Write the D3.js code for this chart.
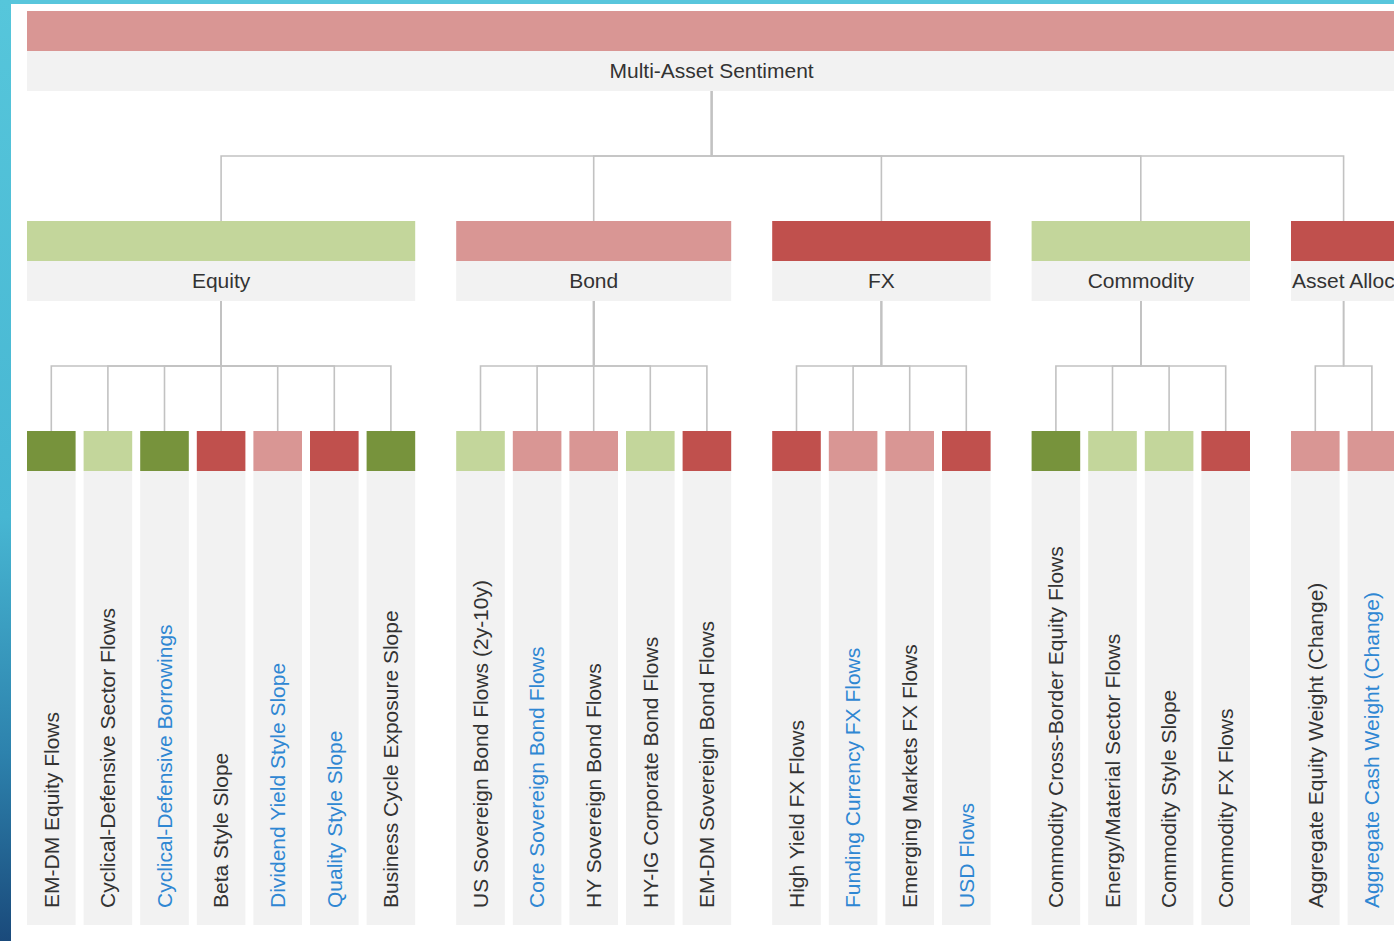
<!DOCTYPE html>
<html>
<head>
<meta charset="utf-8">
<script src="https://cdn.jsdelivr.net/npm/d3@7/dist/d3.min.js"></script>
<style>
  body { margin: 0; background: #fff; overflow: hidden; }
  svg { display: block; font-family: "Liberation Sans", Arial, sans-serif; }
</style>
</head>
<body>
<svg width="1394" height="941"></svg>
<script>
let width = 1394,
    height = 941;

// sentiment: 2 strong positive, 1 positive, -1 negative, -2 strong negative
let rootName = "Multi-Asset Sentiment";
let rootSentiment = -1;

let groups = ["Equity", "Bond", "FX", "Commodity", "Asset Allocation"];
let groupSentiment = [1, -1, -2, 1, -2];

let equityNames = ["EM-DM Equity Flows", "Cyclical-Defensive Sector Flows", "Cyclical-Defensive Borrowings",
  "Beta Style Slope", "Dividend Yield Style Slope", "Quality Style Slope", "Business Cycle Exposure Slope"];
let equitySentiment = [2, 1, 2, -2, -1, -2, 2];
let equityLinked = [false, false, true, false, true, true, false];

let bondNames = ["US Sovereign Bond Flows  (2y-10y)", "Core Sovereign Bond Flows", "HY Sovereign Bond Flows",
  "HY-IG Corporate Bond Flows", "EM-DM Sovereign Bond Flows"];
let bondSentiment = [1, -1, -1, 1, -2];
let bondLinked = [false, true, false, false, false];

let fxNames = ["High Yield FX Flows", "Funding Currency FX Flows", "Emerging Markets FX Flows", "USD Flows"];
let fxSentiment = [-2, -1, -1, -2];
let fxLinked = [false, true, false, true];

let commodityNames = ["Commodity Cross-Border Equity Flows", "Energy/Material Sector Flows",
  "Commodity Style Slope", "Commodity FX Flows"];
let commoditySentiment = [2, 1, 1, -2];
let commodityLinked = [false, false, false, false];

let allocationNames = ["Aggregate Equity Weight (Change)", "Aggregate Cash Weight (Change)"];
let allocationSentiment = [-1, -1];
let allocationLinked = [false, true];

let leafNames = [equityNames, bondNames, fxNames, commodityNames, allocationNames];
let leafSentiment = [equitySentiment, bondSentiment, fxSentiment, commoditySentiment, allocationSentiment];
let leafLinked = [equityLinked, bondLinked, fxLinked, commodityLinked, allocationLinked];

let color = d3.scaleOrdinal()
  .domain([2, 1, -1, -2])
  .range(["#77933c", "#c3d69b", "#d99694", "#c0504d"]);

// build the tree
let leafIndex = 0;
let treeData = {
  name: rootName, sentiment: rootSentiment,
  children: groups.map((g, gi) => ({
    name: g, sentiment: groupSentiment[gi],
    children: leafNames[gi].map((n, i) => ({
      name: n, sentiment: leafSentiment[gi][i], linked: leafLinked[gi][i],
      slot: (leafIndex++) + gi * (33 / 56.6)
    }))
  }))
};
let root = d3.hierarchy(treeData);

let leafW = 48.6;
let x = d3.scaleLinear().domain([0, 1]).range([27, 27 + 56.6]);
let y = d3.scaleLinear().domain([0, 2]).range([11, 431]);

root.eachAfter(d => {
  if (!d.children) {
    d.x0 = x(d.data.slot);
    d.x1 = d.x0 + leafW;
  } else {
    d.x0 = d3.min(d.children, c => c.x0);
    d.x1 = d3.max(d.children, c => c.x1);
  }
  d.cx = (d.x0 + d.x1) / 2;
  d.top = y(d.depth);
});

let svg = d3.select("svg");

// frame
let defs = svg.append("defs");
let grad = defs.append("linearGradient")
  .attr("id", "side").attr("x1", 0).attr("y1", 0).attr("x2", 0).attr("y2", 1);
grad.append("stop").attr("offset", "0%").attr("stop-color", "#56c6db");
grad.append("stop").attr("offset", "55%").attr("stop-color", "#47b6d2");
grad.append("stop").attr("offset", "80%").attr("stop-color", "#2d82ad");
grad.append("stop").attr("offset", "100%").attr("stop-color", "#1a4a7b");

svg.append("rect").attr("width", width).attr("height", height).attr("fill", "#fff");
svg.append("rect").attr("width", width).attr("height", 4).attr("fill", "#58c6dc");
svg.append("rect").attr("width", 11).attr("height", height).attr("fill", "url(#side)");

// connectors
let link = svg.append("g")
    .attr("class", "links")
    .attr("fill", "none")
    .attr("stroke", "#c2c2c2")
    .attr("stroke-width", 1.6)
  .selectAll("path")
  .data(root.links())
  .enter().append("path")
    .attr("d", d => {
      let midY = d.target.top - 65;
      return "M" + d.source.cx + "," + (d.source.top + 80) +
        "V" + midY + "H" + d.target.cx + "V" + d.target.top;
    });

// nodes
let node = svg.append("g")
    .attr("class", "nodes")
  .selectAll("g")
  .data(root.descendants())
  .enter().append("g");

node.append("rect")
  .attr("x", d => d.x0)
  .attr("y", d => d.top + 40)
  .attr("width", d => d.x1 - d.x0)
  .attr("height", d => d.children ? 40 : 454)
  .attr("fill", "#f2f2f2");

node.append("rect")
  .attr("x", d => d.x0)
  .attr("y", d => d.top)
  .attr("width", d => d.x1 - d.x0)
  .attr("height", 40)
  .attr("fill", d => color(d.data.sentiment));

// internal labels (overflowing labels start at the box edge, like the original)
node.filter(d => d.children)
  .append("text")
    .attr("x", d => d.cx)
    .attr("y", d => d.top + 60)
    .attr("dy", "0.35em")
    .attr("text-anchor", "middle")
    .attr("font-size", 21)
    .attr("fill", "#333")
    .text(d => d.data.name)
    .each(function(d) {
      if (this.getComputedTextLength() > d.x1 - d.x0 - 4) {
        d3.select(this).attr("text-anchor", "start").attr("x", d.x0 + 1);
      }
    });

// leaf labels
node.filter(d => !d.children)
  .append("text")
    .attr("transform", d => "translate(" + d.cx + ",908) rotate(-90)")
    .attr("dy", "0.35em")
    .attr("font-size", 21)
    .attr("fill", d => d.data.linked ? "#2f87d3" : "#333")
    .text(d => d.data.name);
</script>
</body>
</html>
